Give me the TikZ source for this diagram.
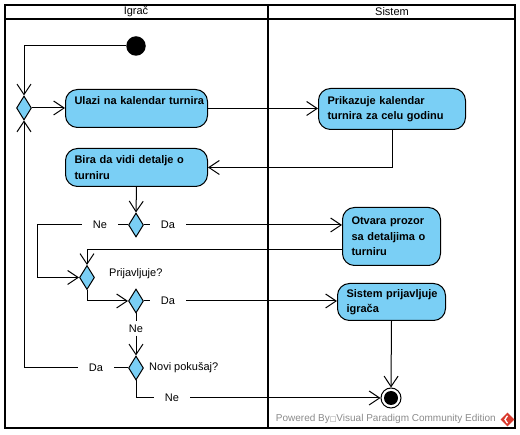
\documentclass[tikz,border=0pt]{standalone}
\usepackage{fontspec}
\setmainfont{Liberation Sans}
\newfontfamily\symfont{DejaVu Sans}
\usetikzlibrary{shapes.geometric,arrows.meta,calc}
\definecolor{actfill}{HTML}{7ACFF5}
\definecolor{wmgray}{HTML}{8A8A8A}
\definecolor{vpred}{HTML}{D93A2E}
\begin{document}
\begin{tikzpicture}[x=1pt,y=-1pt,
  frame/.style={line width=2pt, draw=black},
  act/.style={draw=black, line width=1pt, fill=actfill, rounded corners=12pt,
    anchor=north west, inner xsep=9pt, inner ysep=0pt, align=left,
    font=\bfseries\fontsize{11}{15.5}\selectfont},
  dec/.style={draw=black, line width=1pt, fill=actfill, diamond, inner sep=0pt,
    minimum width=15pt, minimum height=24pt},
  lbl/.style={inner xsep=11pt, inner ysep=3pt, font=\fontsize{11}{13}\selectfont},
  txt/.style={inner sep=0pt, font=\fontsize{11}{13}\selectfont},
  conn/.style={draw=black, line width=1pt},
  arr/.style={conn, -{Straight Barb[length=10.5pt,width=14pt]}}
]
\useasboundingbox (0,0) rectangle (520,435);
% frame
\draw[frame] (5,5) rectangle (515,428);
\draw[frame] (5,19) -- (515,19);
\draw[frame] (268,5) -- (268,428);
\node[txt] (h1) at (136,12) {Igrač};
\node[txt] (h2) at (392,12) {Sistem};

% nodes
\node[circle, fill=black, minimum size=19.5pt, inner sep=0pt] (init) at (136,46) {};
\node[dec] (m1) at (24,108) {};
\node[act, minimum width=142pt, text width=124pt, minimum height=38pt] (a1) at (65,89)
  {\mbox{Ulazi na kalendar turnira}\\\mbox{}};
\node[act, minimum width=147pt, text width=129pt, minimum height=41pt] (a2) at (318,88)
  {Prikazuje kalendar\\\mbox{turnira za celu godinu}};
\node[act, minimum width=142pt, text width=124pt, minimum height=38pt] (a3) at (65,148)
  {Bira da vidi detalje o\\turniru};
\node[dec] (d1) at (136,225) {};
\node[act, minimum width=98pt, text width=80pt, minimum height=58pt] (a4) at (342,207)
  {Otvara prozor\\\mbox{sa detaljima o}\\turniru};
\node[dec] (m2) at (87,277.5) {};
\node[txt, anchor=west] (q1) at (109,274) {Prijavljuje?};
\node[dec] (d2) at (136,301) {};
\node[act, minimum width=108pt, text width=90pt, minimum height=37pt] (a5) at (337,283)
  {\mbox{Sistem prijavljuje}\\igrača};
\node[dec] (d3) at (136,368) {};
\node[txt, anchor=west] (q2) at (149,368) {Novi pokušaj?};
\node[circle, draw=black, line width=1pt, minimum size=20pt, inner sep=0pt] (fin) at (391,398) {};
\node[circle, fill=black, minimum size=14pt, inner sep=0pt] (finin) at (fin.center) {};

% guard labels
\node[lbl] (ne1) at (100,225) {Ne};
\node[lbl] (da1) at (168,225) {Da};
\node[lbl] (da2) at (168,301) {Da};
\node[lbl] (ne2) at (136,328.5) {Ne};
\node[lbl] (da3) at (96,368) {Da};
\node[lbl] (ne3) at (172,398) {Ne};

\coordinate (c1) at (37,225);
\coordinate (a4o) at ($(a4.west)+(0,13)$);

% connectors
\draw[arr] (init.west) -| (m1.north);
\draw[arr] (m1.east) -- (a1.west |- m1.east);
\draw[arr] (a1.east) -- (a1.east -| a2.west);
\draw[arr] (a2.south) |- (a3.east);
\draw[arr] (a3.south) -- (d1.north);
\draw[conn] (d1.west) -- (ne1.east);
\draw[arr] (ne1.west) -- (c1) |- (m2.west);
\draw[conn] (d1.east) -- (da1.west);
\draw[arr] (da1.east) -- (da1.east -| a4.west);
\draw[arr] (a4o) -| (m2.north);
\draw[arr] (m2.south) |- (d2.west);
\draw[conn] (d2.east) -- (da2.west);
\draw[arr] (da2.east) -- (da2.east -| a5.west);
\draw[conn] (d2.south) -- (ne2.north);
\draw[arr] (ne2.south) -- (d3.north);
\draw[conn] (d3.west) -- (da3.east);
\draw[arr] (da3.west) -| (m1.south);
\draw[conn] (d3.south) |- (ne3.west);
\draw[arr] (ne3.east) -- (fin.west);
\draw[arr] (a5.south) -- (fin.north);

% watermark
\node[anchor=east, inner sep=0pt, text=wmgray, font=\fontsize{10}{12}\selectfont] (wm) at (496,419)
  {Powered By{\symfont\fontsize{7}{12}\selectfont □}Visual Paradigm Community Edition};
\node[diamond, fill=vpred, minimum width=14pt, minimum height=14pt, inner sep=0pt] (logo) at (507.5,419.5) {};
\draw[white, line width=1.3pt] ($(logo.north)+(0,3.5)$) -- ($(logo.center)+(-2.5,0)$) -- ($(logo.south)+(0,-3.5)$);
\end{tikzpicture}
\end{document}
